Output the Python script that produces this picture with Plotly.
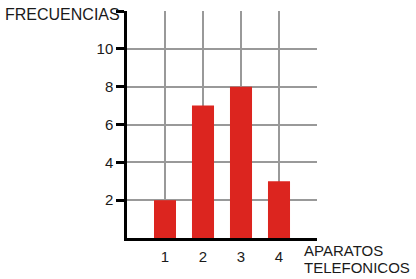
import plotly.graph_objects as go

categories = [1, 2, 3, 4]
frecuencias = [2, 7, 8, 3]
x_tick_vals = [1, 2, 3, 4, 5]
x_tick_text = ["1", "2", "3", "4", ""]
y_tick_vals = [2, 4, 6, 8, 10, 12]
y_tick_text = ["2", "4", "6", "8", "10", ""]

FONT = "Liberation Sans, Arial, sans-serif"
TXT = "#1a1a1a"

fig = go.Figure()
fig.add_trace(go.Bar(x=categories, y=frecuencias, width=0.58,
                     marker=dict(color="#DC251F", line=dict(width=0))))

fig.update_layout(
    width=416, height=279,
    margin=dict(l=127, r=99, t=11, b=41),
    paper_bgcolor="white", plot_bgcolor="white",
    showlegend=False,
    font=dict(family=FONT, size=15, color=TXT),
    xaxis=dict(range=[0, 5], tickmode="array", tickvals=x_tick_vals, ticktext=x_tick_text,
               showgrid=True, gridcolor="#999999", gridwidth=1.5,
               showline=True, linecolor="black", linewidth=2.5,
               ticks="", zeroline=False, ticklabelstandoff=3,
               tickfont=dict(family=FONT, size=15, color=TXT)),
    yaxis=dict(range=[0, 12], tickmode="array", tickvals=y_tick_vals, ticktext=y_tick_text,
               showgrid=True, gridcolor="#999999", gridwidth=1.5,
               showline=True, linecolor="black", linewidth=2.5,
               ticks="outside", ticklen=8, tickwidth=2.5, tickcolor="black",
               zeroline=False,
               tickfont=dict(family=FONT, size=15, color=TXT)),
    annotations=[
        dict(text="FRECUENCIAS", xref="paper", yref="paper", x=-0.026, y=0.983,
             xanchor="right", yanchor="middle", showarrow=False,
             font=dict(family=FONT, size=16, color=TXT)),
        dict(text="APARATOS", xref="paper", yref="paper", x=0.921, y=-0.0537,
             xanchor="left", yanchor="middle", showarrow=False,
             font=dict(family=FONT, size=15, color=TXT)),
        dict(text="TELEFONICOS", xref="paper", yref="paper", x=0.921, y=-0.1286,
             xanchor="left", yanchor="middle", showarrow=False,
             font=dict(family=FONT, size=15, color=TXT)),
    ],
)

fig.write_html("out.html", config={"displayModeBar": False},
               post_script="document.body.style.margin='0';document.body.style.overflow='hidden';")
